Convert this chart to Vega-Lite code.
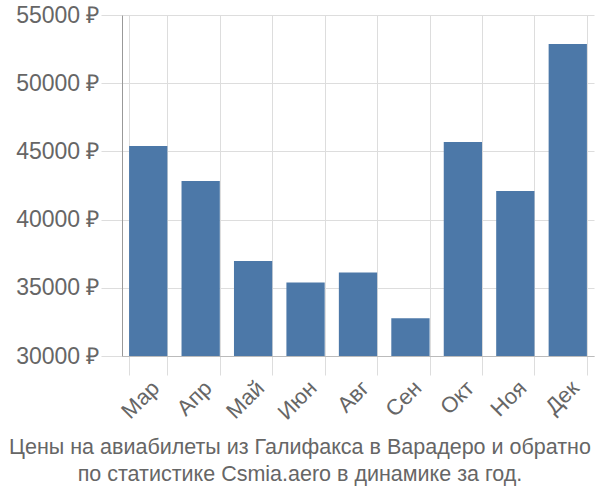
{
  "$schema": "https://vega.github.io/schema/vega-lite/v6.json",
  "autosize": "none",
  "width": 472,
  "height": 341,
  "padding": {"left": 122, "top": 15, "right": 6, "bottom": 144},
  "data": {"values": [
    {"month": "Мар", "price": 45400},
    {"month": "Апр", "price": 42830},
    {"month": "Май", "price": 36960},
    {"month": "Июн", "price": 35390},
    {"month": "Авг", "price": 36130},
    {"month": "Сен", "price": 32770},
    {"month": "Окт", "price": 45690},
    {"month": "Ноя", "price": 42100},
    {"month": "Дек", "price": 52870}
  ]},
  "title": {
    "text": ["Цены на авиабилеты из Галифакса в Варадеро и обратно", "по статистике Csmia.aero в динамике за год."],
    "orient": "bottom",
    "anchor": "middle",
    "font": "Liberation Sans",
    "fontSize": 21.5,
    "fontWeight": "normal",
    "color": "#666666",
    "lineHeight": 27,
    "offset": 14,
    "dx": -58
  },
  "mark": {"type": "bar", "color": "#4c78a8", "clip": true},
  "encoding": {
    "x": {
      "field": "month",
      "type": "nominal",
      "sort": null,
      "scale": {"paddingInner": 0.27, "paddingOuter": 0.135},
      "axis": {
        "title": null,
        "labelAngle": -45,
        "labelFont": "Liberation Sans",
        "labelFontSize": 22,
        "labelColor": "#666666",
        "grid": true,
        "tickBand": "extent",
        "gridColor": "#dddddd",
        "tickColor": "#dddddd",
        "tickSize": 19,
        "domainColor": "#bbbbbb",
        "labelPadding": 2
      }
    },
    "y": {
      "field": "price",
      "type": "quantitative",
      "scale": {"domain": [30000, 55000], "zero": false, "nice": false},
      "axis": {
        "title": null,
        "values": [30000, 35000, 40000, 45000, 50000, 55000],
        "labelExpr": "datum.value + ' ₽'",
        "labelFont": "Liberation Sans",
        "labelFontSize": 23,
        "labelColor": "#666666",
        "gridColor": "#dddddd",
        "tickColor": "#dddddd",
        "tickSize": 21,
        "domainColor": "#999999",
        "labelPadding": 2
      }
    }
  },
  "config": {"view": {"stroke": null}}
}
